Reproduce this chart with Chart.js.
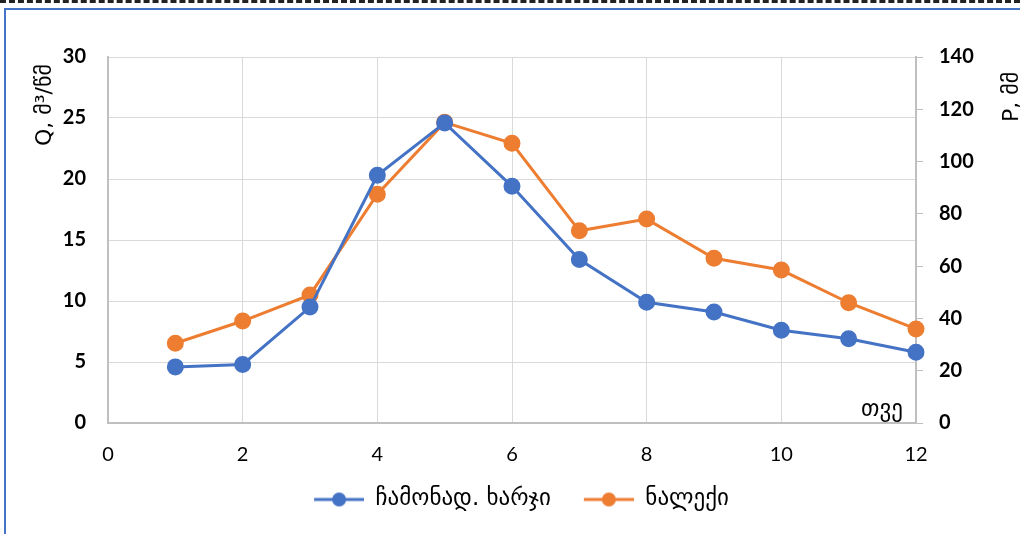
<!DOCTYPE html>
<html>
<head>
<meta charset="utf-8">
<script src="https://cdn.jsdelivr.net/npm/chart.js@4"></script>
<style>
  html, body { margin: 0; padding: 0; background: #fff; overflow: hidden; }
  #wrap { position: absolute; left: 0; top: 0; width: 1020px; height: 534px; }
  #frame { position: absolute; left: 4px; top: 8px; width: 1100px; height: 600px;
           border: 2px solid #4472C4; pointer-events: none; }
  #dash { position: absolute; left: 0; top: 0; width: 1020px; height: 0;
          border-top: 3px dashed #222; }
</style>
</head>
<body>
<div id="wrap">
  <canvas id="myChart" width="1020" height="534"></canvas>
  <div id="dash"></div>
  <div id="frame"></div>
</div>
<script>
const months = [1, 2, 3, 4, 5, 6, 7, 8, 9, 10, 11, 12];
const discharge = [4.6, 4.8, 9.5, 20.3, 24.6, 19.4, 13.4, 9.9, 9.1, 7.6, 6.9, 5.8];
const sediment = [30.5, 39, 49, 87.5, 115, 107, 73.5, 78, 63, 58.5, 46, 36];

const qTitle = "Q, მ³/წმ";
const pTitle = "P, მმ";
const xTitle = "თვე";

const BLUE = "#4472C4";
const ORANGE = "#ED7D31";
const FONT = "Lato, 'DejaVu Sans', sans-serif";
const GEO = "'DejaVu Sans', sans-serif";

// legend marker: short line with a dot, with an empty margin on the left
// so the two legend entries sit further apart
const ICON_W = 73;
const legendIcon = (color) => {
  const c = document.createElement("canvas");
  c.width = ICON_W;
  c.height = 16;
  const g = c.getContext("2d");
  g.strokeStyle = color;
  g.lineWidth = 3;
  g.beginPath();
  g.moveTo(23, 8);
  g.lineTo(ICON_W, 8);
  g.stroke();
  g.fillStyle = color;
  g.beginPath();
  g.arc(48, 8, 7, 0, Math.PI * 2);
  g.fill();
  return c;
};

const titlesPlugin = {
  id: "titles",
  afterDraw(chart) {
    const ctx = chart.ctx;
    const area = chart.chartArea;
    ctx.save();
    ctx.fillStyle = "#000";
    ctx.font = "22px " + GEO;
    ctx.textBaseline = "middle";
    ctx.textAlign = "left";

    ctx.save();
    ctx.translate(45, 146);
    ctx.rotate(-Math.PI / 2);
    ctx.fillText(qTitle, 0, 0);
    ctx.restore();

    ctx.save();
    ctx.translate(1012, 122);
    ctx.rotate(-Math.PI / 2);
    ctx.fillText(pTitle, 0, 0);
    ctx.restore();

    ctx.font = "23px " + GEO;
    ctx.textAlign = "right";
    ctx.textBaseline = "bottom";
    ctx.fillText(xTitle, area.right - 13, area.bottom - 1);
    ctx.restore();
  },
};

const ctx = document.getElementById("myChart");

const chart = new Chart(ctx, {
  type: "line",
  data: {
    datasets: [
      {
        label: "ჩამონად. ხარჯი",
        data: months.map((m, i) => ({ x: m, y: discharge[i] })),
        borderColor: BLUE,
        backgroundColor: BLUE,
        borderWidth: 3,
        pointRadius: 7,
        pointHoverRadius: 7,
        clip: false,
        yAxisID: "y",
        icon: legendIcon(BLUE),
      },
      {
        label: "ნალექი",
        data: months.map((m, i) => ({ x: m, y: sediment[i] })),
        borderColor: ORANGE,
        backgroundColor: ORANGE,
        borderWidth: 3,
        pointRadius: 7,
        pointHoverRadius: 7,
        clip: false,
        yAxisID: "y1",
        icon: legendIcon(ORANGE),
      },
    ],
  },
  options: {
    responsive: false,
    animation: false,
    layout: { padding: { top: 57, bottom: 13, left: 0, right: 0 } },
    scales: {
      x: {
        type: "linear",
        min: 0,
        max: 12,
        ticks: { stepSize: 2, padding: 20, color: "#000", font: { family: FONT, size: 20 } },
        grid: { color: "#d9d9d9", drawTicks: false },
        border: { color: "#bfbfbf", width: 2 },
        afterFit: (s) => { s.height = 55; },
      },
      y: {
        position: "left",
        min: 0,
        max: 30,
        ticks: { stepSize: 5, padding: 22, color: "#000", font: { family: FONT, size: 20, weight: "bold" } },
        grid: { color: "#d9d9d9", drawTicks: false },
        border: { color: "#bfbfbf", width: 2 },
        afterFit: (s) => { s.width = 108; },
      },
      y1: {
        position: "right",
        min: 0,
        max: 140,
        ticks: { stepSize: 20, padding: 16, color: "#000", font: { family: FONT, size: 20, weight: "bold" } },
        grid: { drawOnChartArea: false, drawTicks: true, tickLength: 7, color: "#bfbfbf" },
        border: { color: "#bfbfbf", width: 2 },
        afterFit: (s) => { s.width = 104; },
      },
    },
    plugins: {
      tooltip: { enabled: false },
      legend: {
        position: "bottom",
        labels: {
          usePointStyle: true,
          pointStyleWidth: ICON_W,
          padding: 10,
          color: "#000",
          font: { family: GEO, size: 23 },
          generateLabels: (chart) =>
            Chart.defaults.plugins.legend.labels.generateLabels(chart).map((item) => {
              item.pointStyle = chart.data.datasets[item.datasetIndex].icon;
              return item;
            }),
        },
      },
    },
  },
  plugins: [titlesPlugin],
});
</script>
</body>
</html>
